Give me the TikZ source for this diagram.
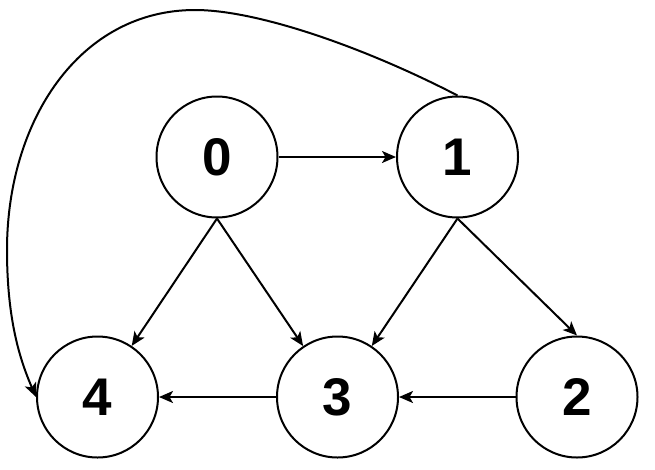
\documentclass[tikz,border=0pt]{standalone}
\usepackage{fontspec}
\setmainfont{Liberation Sans}
\usetikzlibrary{arrows.meta}
\begin{document}
\begin{tikzpicture}[x=1pt,y=-1pt,
  vert/.style={circle,draw,line width=2pt,minimum size=121pt,inner sep=0pt,
    font=\fontsize{53}{53}\selectfont\bfseries},
  edge/.style={line width=2pt,-{Stealth[length=14pt,width=12pt,inset=3.5pt]}}]
\useasboundingbox (0,0) rectangle (655,469);
\node[vert] (n0) at (217,157) {0};
\node[vert] (n1) at (457.5,157) {1};
\node[vert] (n4) at (97.5,397) {4};
\node[vert] (n3) at (337.5,397) {3};
\node[vert] (n2) at (577,397) {2};
\draw[edge] (n0) -- (n1);
\draw[edge] (n0.south) -- (n4);
\draw[edge] (n0.south) -- (n3);
\draw[edge] (n1.south) -- (n3);
\draw[edge] (n1.south) -- (n2.north);
\draw[edge] (n3) -- (n4);
\draw[edge] (n2) -- (n3);
\draw[edge] (n1.north) .. controls (370,50) and (260,10) .. (195,10)
  .. controls (80,10) and (7,120) .. (7,250)
  .. controls (7,320) and (20,360) .. (n4.west);
\end{tikzpicture}
\end{document}
